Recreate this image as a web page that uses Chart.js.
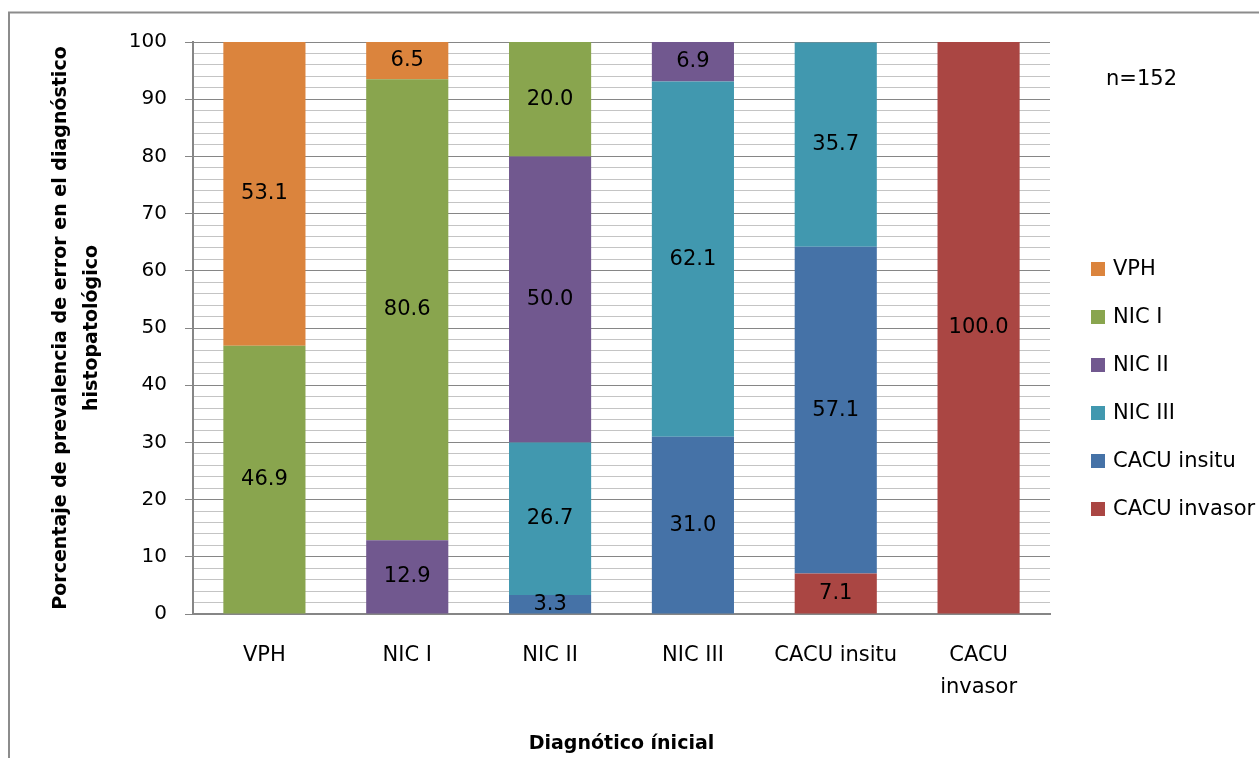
<!DOCTYPE html>
<html>
<head>
<meta charset="utf-8">
<script src="https://cdn.jsdelivr.net/npm/chart.js@4"></script>
<style>
  html, body { margin: 0; padding: 0; background: #fff; }
  #wrap { width: 1259px; height: 758px; position: relative; }
</style>
</head>
<body>
<div id="wrap"><canvas id="chart" width="1259" height="758"></canvas></div>
<script>
const categories = ['VPH', 'NIC I', 'NIC II', 'NIC III', 'CACU insitu', ['CACU', 'invasor']];

// stack order, bottom first
const cacuInvasor = [0, 0, 0, 0, 7.1, 100.0];
const cacuInsitu = [0, 0, 3.3, 31.0, 57.1, 0];
const nicIII = [0, 0, 26.7, 62.1, 35.7, 0];
const nicII = [0, 12.9, 50.0, 6.9, 0, 0];
const nicI = [46.9, 80.6, 20.0, 0, 0, 0];
const vph = [53.1, 6.5, 0, 0, 0, 0];

const yMin = 0;
const yMax = 100;
const yMinorStep = 2;
const yMajorStep = 10;

const sampleNote = 'n=152';
const xTitle = 'Diagnótico ínicial';
const yTitle = ['Porcentaje de prevalencia de error en el diagnóstico', 'histopatológico'];

const FONT = "'DejaVu Sans', sans-serif";
const AXIS_GREY = '#868686';
const MINOR_GREY = '#c4c4c4';

const series = [
    { label: 'CACU invasor', data: cacuInvasor, color: '#AA4643' },
    { label: 'CACU insitu', data: cacuInsitu, color: '#4572A7' },
    { label: 'NIC III', data: nicIII, color: '#4198AF' },
    { label: 'NIC II', data: nicII, color: '#71588F' },
    { label: 'NIC I', data: nicI, color: '#89A54E' },
    { label: 'VPH', data: vph, color: '#DB843D' }
];

// values in the middle of each segment
const segmentLabels = {
    id: 'segmentLabels',
    afterDatasetsDraw(chart) {
        const ctx = chart.ctx;
        ctx.save();
        ctx.font = `21px ${FONT}`;
        ctx.fillStyle = '#000';
        ctx.textAlign = 'center';
        ctx.textBaseline = 'middle';
        chart.data.datasets.forEach((ds, i) => {
            const meta = chart.getDatasetMeta(i);
            meta.data.forEach((bar, j) => {
                const v = ds.data[j];
                if (!v) return;
                const mid = (bar.y + bar.base) / 2;
                ctx.fillText(v.toFixed(1), bar.x, mid);
            });
        });
        ctx.restore();
    }
};

// frame, legend and note
const extras = {
    id: 'extras',
    beforeDraw(chart) {
        const ctx = chart.ctx;
        ctx.save();
        ctx.strokeStyle = '#8c8c8c';
        ctx.lineWidth = 2;
        ctx.strokeRect(9, 12.5, 2000, 2000);
        ctx.restore();
    },
    afterDraw(chart) {
        const ctx = chart.ctx;
        ctx.save();
        ctx.font = `21px ${FONT}`;
        ctx.fillStyle = '#000';
        ctx.textBaseline = 'middle';
        ctx.textAlign = 'left';
        ctx.fillText(sampleNote, 1106, 80);

        const items = chart.data.datasets.slice().reverse();
        items.forEach((ds, i) => {
            const cy = 269 + i * 48;
            ctx.fillStyle = ds.backgroundColor;
            ctx.fillRect(1091, cy - 7, 14, 14);
            ctx.fillStyle = '#000';
            ctx.fillText(ds.label, 1113, cy + 1);
        });
        ctx.restore();
    }
};

const ctx = document.getElementById('chart').getContext('2d');
new Chart(ctx, {
    type: 'bar',
    data: {
        labels: categories,
        datasets: series.map(s => ({
            label: s.label,
            data: s.data,
            backgroundColor: s.color,
            borderWidth: 0,
            categoryPercentage: 1,
            barPercentage: 0.575
        }))
    },
    options: {
        responsive: false,
        animation: false,
        layout: { padding: { left: 0, right: 209, top: 42, bottom: 0 } },
        plugins: {
            legend: { display: false },
            tooltip: { enabled: false }
        },
        scales: {
            x: {
                stacked: true,
                grid: { display: false, drawTicks: false },
                border: { display: true, color: AXIS_GREY, width: 2 },
                ticks: {
                    color: '#000',
                    font: { family: FONT, size: 21, lineHeight: 1.52 },
                    padding: 26,
                    maxRotation: 0,
                    autoSkip: false
                },
                title: {
                    display: true,
                    text: xTitle,
                    color: '#000',
                    font: { family: FONT, size: 19, weight: 'bold', lineHeight: 1.2 },
                    padding: { top: 0, bottom: 3 }
                },
                afterFit(scale) { scale.height = 758 - 614; }
            },
            y: {
                stacked: true,
                min: yMin,
                max: yMax,
                grid: {
                    color: c => (c.tick && c.tick.value % yMajorStep === 0) ? AXIS_GREY : MINOR_GREY,
                    tickColor: c => (c.tick && c.tick.value % yMajorStep === 0) ? AXIS_GREY : 'rgba(0,0,0,0)',
                    tickLength: 8,
                    lineWidth: 1
                },
                border: { display: true, color: AXIS_GREY, width: 2 },
                ticks: {
                    stepSize: yMinorStep,
                    autoSkip: false,
                    color: '#000',
                    padding: 18,
                    font: { family: FONT, size: 20 },
                    callback: v => (v % yMajorStep === 0 ? String(v) : '')
                },
                title: {
                    display: true,
                    text: yTitle,
                    color: '#000',
                    font: { family: FONT, size: 19, weight: 'bold', lineHeight: 1.63 },
                    padding: { top: 46, bottom: 0 }
                },
                afterFit(scale) { scale.width = 193; }
            }
        }
    },
    plugins: [segmentLabels, extras]
});
</script>
</body>
</html>
